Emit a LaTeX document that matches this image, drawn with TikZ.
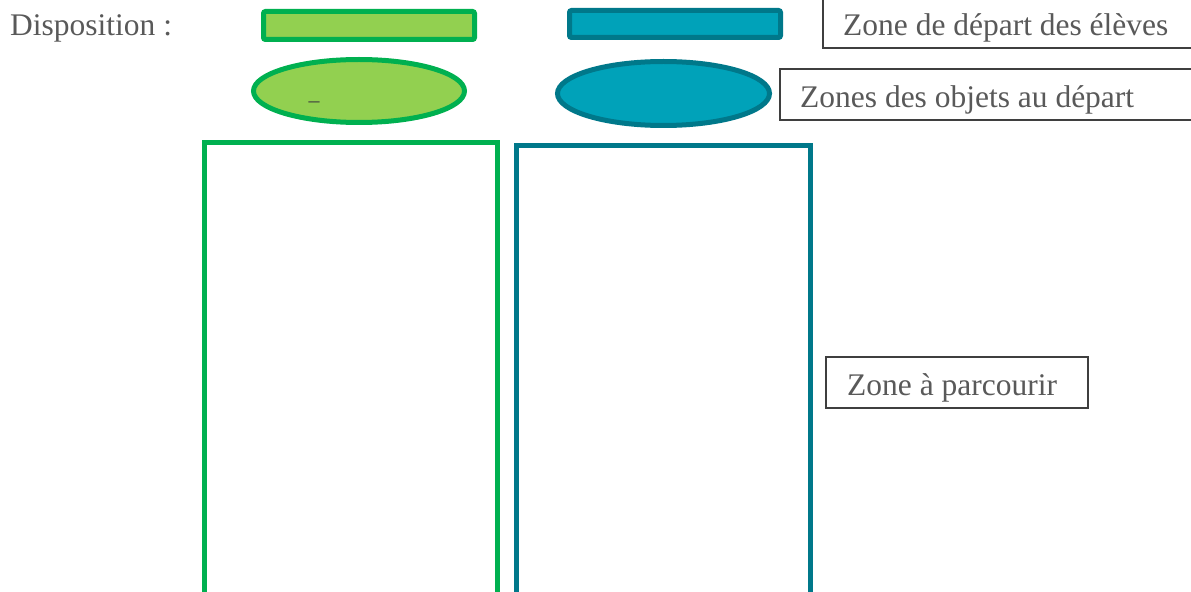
\documentclass[tikz,border=0pt]{standalone}
\usepackage{fontspec}
\setmainfont{Liberation Serif}
\definecolor{leafgreen}{HTML}{92D050}
\definecolor{edgegreen}{HTML}{00B050}
\definecolor{tealfill}{HTML}{00A2B9}
\definecolor{tealedge}{HTML}{00788A}
\definecolor{txtgray}{HTML}{595959}
\definecolor{boxgray}{HTML}{3F3F3F}
\tikzset{
  greenshape/.style={draw=edgegreen, fill=leafgreen, line width=5bp},
  tealshape/.style={draw=tealedge, fill=tealfill, line width=5bp},
  greenlane/.style={draw=edgegreen, line width=5bp},
  teallane/.style={draw=tealedge, line width=5bp},
  labelbox/.style={draw=boxgray, fill=white, line width=1.3bp},
  labeltext/.style={anchor=base west, inner sep=0pt, text=txtgray,
    font=\fontsize{31.6}{36}\selectfont},
}
\begin{document}
\begin{tikzpicture}[x=1bp, y=-1bp]
\useasboundingbox (0,0) rectangle (1191,592);
\clip (0,0) rectangle (1191,592);

% starting zones for the pupils
\draw[greenshape, rounded corners=2bp] (263.5,11.5) rectangle (474.5,39.5);
\draw[tealshape, rounded corners=2bp] (569.5,10.5) rectangle (780.5,37.5);

% zones holding the objects at the start
\draw[greenshape] (359,91) ellipse [x radius=105.5, y radius=31.5];
\draw[tealshape] (663.5,93.5) ellipse [x radius=106, y radius=32];
\node[anchor=base, inner sep=0pt, text=boxgray, font=\fontsize{22}{22}\selectfont] (mark) at (314,108) {–};

% lanes to run through
\draw[greenlane] (204.5,600) -- (204.5,142.5) -- (497.5,142.5) -- (497.5,600);
\draw[teallane] (516.5,600) -- (516.5,145.5) -- (810.5,145.5) -- (810.5,600);

% captions
\draw[labelbox] (823,-5) rectangle (1200,48);
\draw[labelbox] (780,69) rectangle (1200,120);
\draw[labelbox] (826,357) rectangle (1088,408);

\node[labeltext] (disp) at (10,36) {Disposition :};
\node[labeltext] (depart) at (843,36) {Zone de départ des élèves};
\node[labeltext] (objets) at (800,108) {Zones des objets au départ};
\node[labeltext] (parcours) at (847,395) {Zone à parcourir};
\end{tikzpicture}
\end{document}
